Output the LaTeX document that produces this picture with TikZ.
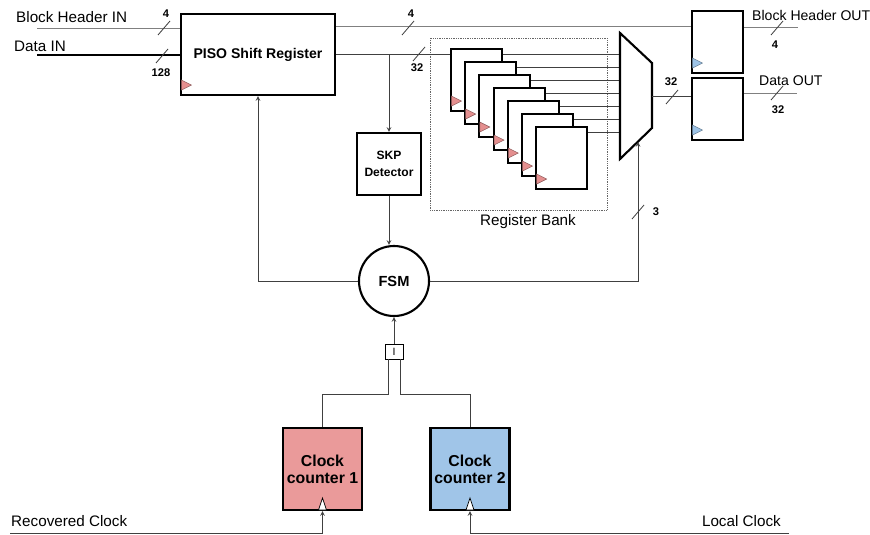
\documentclass[tikz,border=0pt]{standalone}
\usepackage{fontspec}
\setmainfont{Liberation Sans}
\usetikzlibrary{shapes,calc}

\definecolor{clkred}{HTML}{E48F8F}
\definecolor{clkblue}{HTML}{9DC3E6}
\definecolor{cntred}{HTML}{EA9A9A}
\definecolor{cntblue}{HTML}{A0C5E8}

% small clock mark in the lower left corner of a register
\newcommand{\clk}[2]{\filldraw[fill=#2,draw=#2!60!black,line width=0.4pt]
  ($(#1.south west)+(1.5,-16)$) -- ++(10,5) -- ++(-10,5) -- cycle;}
% clock input of a counter
\newcommand{\cntclk}[1]{\filldraw[fill=white,draw=black,line width=0.6pt]
  ($(#1.south)+(-4,-1)$) -- ($(#1.south)+(0,-13)$) -- ($(#1.south)+(4,-1)$) -- cycle;}

\tikzset{bus/.pic={\draw[draw=black!75,line width=0.7pt] (-6,7) -- (6,-7);}}

\begin{document}
\begin{tikzpicture}[x=0.03cm,y=-0.03cm]
    \tikzstyle{wire}=[draw=black!75,line width=0.8pt]
    \tikzstyle{hwire}=[draw=black!50,line width=0.8pt]
    \tikzstyle{arr}=[->,>=stealth]
    \tikzstyle{block}=[rectangle,draw,line width=1.8pt,fill=white,inner sep=0pt]
    \tikzstyle{reg}=[block,minimum width=1.53cm,minimum height=1.86cm]
    \tikzstyle{counter}=[block,minimum width=2.37cm,minimum height=2.46cm,align=center,
      font=\fontsize{13.5}{14.5}\selectfont\bfseries]
    \tikzstyle{lbl}=[font=\fontsize{13}{15}\selectfont,inner sep=0pt]
    \tikzstyle{rlbl}=[font=\fontsize{12}{14}\selectfont,inner sep=0pt]
    \tikzstyle{bw}=[font=\fontsize{9.5}{11}\selectfont\bfseries,inner sep=0pt]
    \useasboundingbox (0,0) rectangle (870,535);

    % main blocks
    \node[block,minimum width=4.62cm,minimum height=2.43cm,
      font=\fontsize{12}{14}\selectfont\bfseries] (piso) at (258,54.5) {PISO Shift Register};
    \clk{piso}{clkred}
    \node[block,minimum width=1.92cm,minimum height=1.86cm,align=center,
      font=\fontsize{10.3}{14}\selectfont\bfseries] (skp) at (389,164) {SKP\\Detector};
    \node[circle,draw,line width=1.8pt,fill=white,minimum size=2.1cm,
      font=\fontsize{12.5}{14}\selectfont\bfseries] (fsm) at (394,281) {FSM};
    \node[draw,line width=0.6pt,minimum width=0.54cm,minimum height=0.45cm,inner sep=0pt,
      font=\fontsize{9}{10}\selectfont] (sel) at (394,351.5) {I};
    \node[counter,fill=cntred] (cc1) at (322.5,469) {Clock\\counter 1};
    \node[counter,fill=cntblue] (cc2) at (470,469) {Clock\\counter 2};

    % register bank
    \draw[densely dotted,black!60,line width=0.5pt] (430,38) rectangle (607,210);
    \node[lbl] (banklbl) at (528,222) {Register Bank};
    \foreach \i in {1,...,7}{
      \node[reg] (r\i) at ({476.5+14.2*(\i-1)},{80+13*(\i-1)}) {};
      \clk{r\i}{clkred}
    }
    \coordinate (muxin) at (620,96);
    \coordinate (muxout) at (652,96);
    \coordinate (muxsel) at (638,142);
    \foreach \i in {1,...,7}
      \draw[wire] ($(r\i.north east)+(0,6.5)$) coordinate (q\i) -- (q\i -| muxin);
    \draw[line width=1.8pt,fill=white] (620,33) -- (652,63) -- (652,128) -- (620,159) -- cycle;

    % output registers
    \node[reg] (hdr) at (717.5,42) {};
    \clk{hdr}{clkblue}
    \node[reg] (dout) at (717.5,109) {};
    \clk{dout}{clkblue}

    % inputs
    \coordinate (bhin) at (37,28);
    \coordinate (din) at (37,55);
    \draw[hwire] (bhin) -- (bhin -| piso.west);
    \draw[line width=2pt] (din) -- (din -| piso.west);
    \node[lbl,anchor=west] (bhinlbl) at (16,17) {Block Header IN};
    \node[lbl,anchor=west] (dinlbl) at (14,46) {Data IN};
    \pic at (164,28) {bus};
    \node[bw] (w1) at (166,14) {4};
    \pic at (162,56) {bus};
    \node[bw] (w2) at (161,73) {128};

    % PISO outputs
    \draw[hwire] ($(piso.north east)+(0,13.5)$) coordinate (h0) -- (h0 -| hdr.west);
    \pic at (408,28) {bus};
    \node[bw] (w3) at (411,14) {4};
    \draw[wire] (piso.east) -- (piso.east -| r1.west);
    \pic at (419,54) {bus};
    \node[bw] (w4) at (417,68) {32};
    \draw[wire,arr] (piso.east -| skp.north) -- (skp.north);
    \draw[wire,arr] (skp.south) -- (skp.south |- fsm.north);

    % mux to output registers
    \draw[wire] (muxout) -- (muxout -| dout.west);
    \pic at (672,97) {bus};
    \node[bw] (w5) at (671,82) {32};
    \coordinate (bhout) at (798,27);
    \coordinate (dtout) at (797,93);
    \draw[hwire] (bhout -| hdr.east) -- (bhout);
    \draw[hwire] (dtout -| dout.east) -- (dtout);
    \pic at (777,28) {bus};
    \node[bw] (w6) at (775,45) {4};
    \pic at (777,93) {bus};
    \node[bw] (w7) at (778,110) {32};
    \node[rlbl,anchor=west] (bhoutlbl) at (752,15) {Block Header OUT};
    \node[rlbl,anchor=west] (doutlbl) at (759,81) {Data OUT};

    % FSM connections
    \draw[wire,arr] (fsm.west) -| (piso.south);
    \draw[wire,arr] (fsm.east) -| (muxsel);
    \pic at (638,212) {bus};
    \node[bw] (w8) at (656,212) {3};
    \draw[wire,arr] (sel.north) -- (fsm.south);
    \draw[wire] ($(sel.south)+(-6,0)$) -- ++(0,35) -| (cc1.north);
    \draw[wire] ($(sel.south)+(6,0)$) -- ++(0,35) -| (cc2.north);

    % clocks
    \coordinate (rc) at (10,533);
    \coordinate (lc) at (789,533);
    \draw[wire,arr] (rc) -| (cc1.south);
    \draw[wire,arr] (lc) -| (cc2.south);
    \cntclk{cc1}
    \cntclk{cc2}
    \node[lbl,anchor=west] (rclbl) at (11,521) {Recovered Clock};
    \node[lbl,anchor=east] (lclbl) at (781,521) {Local Clock};
\end{tikzpicture}
\end{document}
